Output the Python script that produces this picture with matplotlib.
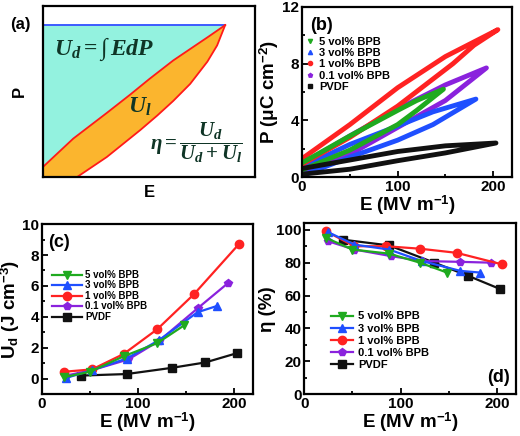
import matplotlib
matplotlib.use("Agg")
import matplotlib.pyplot as plt
from matplotlib.lines import Line2D
from matplotlib.ticker import MultipleLocator

plt.rcParams['font.family'] = ['Liberation Sans', 'DejaVu Sans']
plt.rcParams['font.weight'] = 'bold'
plt.rcParams['axes.labelweight'] = 'bold'
plt.rcParams['mathtext.fontset'] = 'custom'
plt.rcParams['mathtext.it'] = 'Liberation Serif:italic:bold'
plt.rcParams['mathtext.rm'] = 'Liberation Serif:bold'
plt.rcParams['mathtext.bf'] = 'Liberation Serif:bold'

# ---- data ----
names = ['5 vol% BPB', '3 vol% BPB', '1 vol% BPB', '0.1 vol% BPB', 'PVDF']
colors = ['#1faa1f', '#1f4fff', '#ff2222', '#8a22dd', '#111111']
markers = ['v', '^', 'o', 'p', 's']

# (a) schematic loop, axes fractions
a_top = 0.889
a_up_x = [0.0, 0.142, 0.30, 0.41, 0.50, 0.613, 0.70, 0.78, 0.858]
a_up_y = [0.06, 0.225, 0.375, 0.482, 0.573, 0.682, 0.755, 0.822, 0.889]
a_lo_x = [0.16, 0.30, 0.458, 0.538, 0.613, 0.693, 0.774, 0.82, 0.858]
a_lo_y = [0.0, 0.117, 0.275, 0.36, 0.445, 0.545, 0.675, 0.77, 0.889]

# (b) P-E loops: charge branch (0 -> Emax) then discharge branch (Emax -> 0)
loop_E = [
    [0, 50, 100, 120, 148, 120, 100, 50, 0],
    [0, 50, 100, 137, 182, 137, 100, 50, 0],
    [0, 50, 100, 158, 180, 205, 150, 100, 50, 0],
    [0, 50, 100, 150, 193, 150, 100, 50, 0],
    [0, 50, 100, 150, 203, 150, 100, 50, 0],
]
loop_P = [
    [0.5, 1.9, 3.7, 4.7, 6.2, 5.4, 4.7, 2.9, 1.0],
    [0.1, 1.4, 2.6, 3.7, 5.5, 4.6, 3.6, 2.3, 0.7],
    [0.9, 2.8, 5.0, 8.0, 9.3, 10.4, 8.5, 6.3, 3.7, 1.3],
    [0.3, 1.6, 3.5, 5.4, 7.7, 6.5, 4.8, 2.9, 0.9],
    [0.2, 0.55, 1.15, 1.7, 2.4, 2.2, 1.8, 1.2, 0.6],
]

# (c) discharged energy density
c_E = [
    [23, 50, 85, 120, 148],
    [25, 52, 88, 122, 162, 182],
    [23, 52, 85, 120, 158, 205],
    [25, 52, 90, 122, 162, 194],
    [40, 88, 135, 170, 203],
]
c_U = [
    [0.1, 0.45, 1.45, 2.3, 3.45],
    [0.05, 0.55, 1.3, 2.5, 4.3, 4.7],
    [0.45, 0.6, 1.6, 3.2, 5.45, 8.7],
    [0.2, 0.55, 1.25, 2.45, 4.55, 6.2],
    [0.2, 0.3, 0.7, 1.05, 1.65],
]

# (d) efficiency
d_E = [
    [23, 50, 88, 120, 148],
    [25, 52, 88, 122, 162, 182],
    [23, 52, 85, 120, 158, 205],
    [25, 52, 90, 122, 162, 194],
    [40, 88, 135, 170, 203],
]
d_eta = [
    [95, 88, 85.5, 80, 74],
    [98.5, 91, 88, 81, 75, 74],
    [99, 90, 90, 88.5, 86, 79],
    [93, 88, 84, 81, 80.5, 80],
    [94, 90.5, 80, 72, 64],
]

XLAB = 'E (MV m$^{\\mathregular{-1}}$)'


def style_axes(ax):
    for s in ax.spines.values():
        s.set_linewidth(1.6)
    ax.tick_params(which='both', direction='in', top=False, right=False,
                   width=1.3, labelsize=11, pad=2)
    ax.tick_params(which='major', length=4)
    ax.tick_params(which='minor', length=2.5)


fig = plt.figure(figsize=(5.2, 4.36), dpi=100)

# ---- (a) ----
ax = fig.add_axes([0.083, 0.594, 0.408, 0.392])
ax.set_xlim(0, 1)
ax.set_ylim(0, 1)
ax.fill_between(a_up_x, a_up_y, a_top, color='#93f2df', lw=0)
ax.fill(a_up_x + a_lo_x[::-1] + [0.0], a_up_y + a_lo_y[::-1] + [0.0],
        color='#fbb52e', lw=0)
ax.plot([0, a_up_x[-1]], [a_top, a_top], color='#2f4fff', lw=1.3)
ax.plot(a_up_x, a_up_y, color='#ff1a1a', lw=1.3)
ax.plot(a_lo_x, a_lo_y, color='#ff1a1a', lw=1.3)
tc = '#0f3526'
ax.text(0.05, 0.745, r'$U_d = \int\, EdP$', fontsize=17, color=tc,
        va='center')
ax.text(0.40, 0.41, r'$U_l$', fontsize=17, color=tc, va='center')
ax.text(0.72, 0.20, r'$\eta = \dfrac{U_d}{U_d + U_l}$', fontsize=15,
        color=tc, va='center', ha='center')
ax.set_xticks([])
ax.set_yticks([])
for s in ax.spines.values():
    s.set_linewidth(1.6)
ax.set_xlabel('E', fontsize=12, labelpad=6)
ax.set_ylabel('P', fontsize=12, labelpad=12)
fig.text(0.019, 0.96, '(a)', fontsize=12, va='top')

# ---- (b) ----
ax = fig.add_axes([0.581, 0.594, 0.404, 0.390])
for i in [3, 1, 2, 0, 4]:
    ax.plot(loop_E[i], loop_P[i], color=colors[i], lw=3.5,
            solid_joinstyle='round', solid_capstyle='round')
ax.set_xlim(0, 220)
ax.set_ylim(0, 12)
ax.set_xticks([0, 100, 200])
ax.set_yticks([0, 4, 8, 12])
ax.xaxis.set_minor_locator(MultipleLocator(50))
ax.yaxis.set_minor_locator(MultipleLocator(2))
style_axes(ax)
ax.set_xlabel(XLAB, fontsize=13.5, labelpad=0)
ax.set_ylabel('P (μC cm$^{\\mathregular{-2}}$)', fontsize=13.5, labelpad=1)
ax.text(0.04, 0.94, '(b)', transform=ax.transAxes, fontsize=13, va='top')
handles = [Line2D([], [], color=colors[i], marker=markers[i], ls='None',
                  ms=3) for i in range(5)]
ax.legend(handles, names, loc='upper left', bbox_to_anchor=(0.0, 0.852),
          frameon=False, fontsize=8, handlelength=0.6, handletextpad=0.5,
          labelspacing=0.12, borderaxespad=0.0)

# ---- (c) ----
ax = fig.add_axes([0.081, 0.096, 0.406, 0.390])
for i in [4, 3, 2, 1, 0]:
    ax.plot(c_E[i], c_U[i], color=colors[i], marker=markers[i], lw=1.6,
            ms=6, label=names[i])
ax.set_xlim(0, 220)
ax.set_ylim(-1, 10)
ax.set_xticks([0, 100, 200])
ax.set_yticks([0, 2, 4, 6, 8, 10])
ax.xaxis.set_minor_locator(MultipleLocator(50))
ax.yaxis.set_minor_locator(MultipleLocator(1))
style_axes(ax)
ax.set_xlabel(XLAB, fontsize=13.5, labelpad=0)
ax.set_ylabel('U$_{\\mathregular{d}}$ (J cm$^{\\mathregular{-3}}$)',
              fontsize=13.5, labelpad=0)
ax.text(0.03, 0.94, '(c)', transform=ax.transAxes, fontsize=13, va='top')
h, l = ax.get_legend_handles_labels()
ax.legend(h[::-1], l[::-1], loc='upper left', bbox_to_anchor=(0.03, 0.753),
          frameon=False, fontsize=7, handlelength=3.1, handletextpad=0.3,
          labelspacing=0.05, borderaxespad=0.0)

# ---- (d) ----
ax = fig.add_axes([0.585, 0.096, 0.408, 0.392])
for i in [4, 3, 2, 1, 0]:
    ax.plot(d_E[i], d_eta[i], color=colors[i], marker=markers[i], lw=1.6,
            ms=6, label=names[i])
ax.set_xlim(0, 220)
ax.set_ylim(0, 104)
ax.set_xticks([0, 100, 200])
ax.set_yticks([0, 20, 40, 60, 80, 100])
ax.xaxis.set_minor_locator(MultipleLocator(50))
ax.yaxis.set_minor_locator(MultipleLocator(10))
style_axes(ax)
ax.set_xlabel(XLAB, fontsize=13.5, labelpad=0)
ax.set_ylabel('η (%)', fontsize=13.5, labelpad=0)
ax.text(0.97, 0.05, '(d)', transform=ax.transAxes, fontsize=13, ha='right',
        va='bottom')
h, l = ax.get_legend_handles_labels()
ax.legend(h[::-1], l[::-1], loc='upper left', bbox_to_anchor=(0.106, 0.51),
          frameon=False, fontsize=8, handlelength=2.0, handletextpad=0.4,
          labelspacing=0.2, borderaxespad=0.0)

fig.savefig('out.png', dpi=100)
